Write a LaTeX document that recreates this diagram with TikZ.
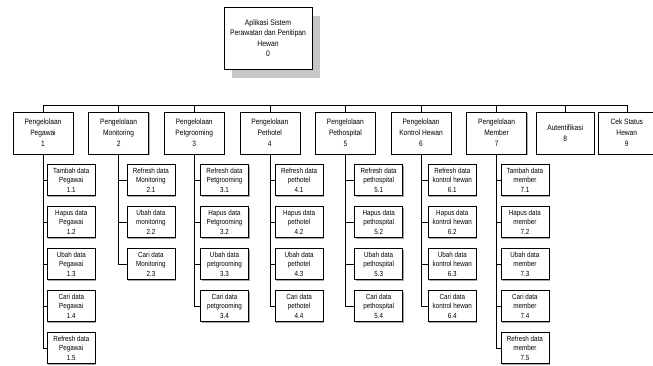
\documentclass[tikz,border=0pt]{standalone}
\usepackage{fontspec}
\setmainfont{Liberation Sans}[FakeStretch=0.85]
\usetikzlibrary{positioning,shadows}

\begin{document}
\begin{tikzpicture}[
x=1pt,y=1pt,
line width=0.6pt,
node distance=15pt,
mainblock/.style={
draw,
fill=white,
minimum width=88pt,
minimum height=62pt,
align=center,
font=\fontsize{8}{10.5}\selectfont,
drop shadow={shadow xshift=8pt,shadow yshift=-9pt,fill=gray!45,opacity=1}
},
block/.style={
draw,
fill=white,
minimum width=60pt,
minimum height=42pt,
inner sep=1pt,
align=center,
font=\fontsize{7.8}{11}\selectfont,
drop shadow={shadow xshift=1pt,shadow yshift=-1pt,fill=gray!60,opacity=1}
},
smallblock/.style={
draw,
fill=white,
minimum width=48pt,
minimum height=31pt,
inner sep=1pt,
align=center,
font=\fontsize{7.4}{9.6}\selectfont,
drop shadow={shadow xshift=1pt,shadow yshift=-1pt,fill=gray!70,opacity=1}
}
]

\useasboundingbox (0,0) rectangle (653,-365);

%%%%%%%%%%%%%%%%%%%%%%%%%%%%%%%%%%%%%%%%%%%%%
% Root
%%%%%%%%%%%%%%%%%%%%%%%%%%%%%%%%%%%%%%%%%%%%%

\node[mainblock] (root) at (268,-38)
{Aplikasi Sistem\\Perawatan dan Penitipan\\Hewan\\0};

%%%%%%%%%%%%%%%%%%%%%%%%%%%%%%%%%%%%%%%%%%%%%
% Main Processes
%%%%%%%%%%%%%%%%%%%%%%%%%%%%%%%%%%%%%%%%%%%%%

\node[block] (p1) at (43,-133)
{Pengelolaan\\Pegawai\\1};

\node[block,right=15pt of p1] (p2)
{Pengelolaan\\Monitoring\\2};

\node[block,right=15pt of p2] (p3)
{Pengelolaan\\Petgrooming\\3};

\node[block,right=15pt of p3] (p4)
{Pengelolaan\\Pethotel\\4};

\node[block,right=15pt of p4] (p5)
{Pengelolaan\\Pethospital\\5};

\node[block,right=15pt of p5] (p6)
{Pengelolaan\\Kontrol Hewan\\6};

\node[block,right=15pt of p6] (p7)
{Pengelolaan\\Member\\7};

\node[block,minimum width=58pt,right=9pt of p7] (p8)
{Autentifikasi\\8};

\node[block,minimum width=58pt,right=3pt of p8] (p9)
{Cek Status\\Hewan\\9};

%%%%%%%%%%%%%%%%%%%%%%%%%%%%%%%%%%%%%%%%%%%%%
% Pegawai
%%%%%%%%%%%%%%%%%%%%%%%%%%%%%%%%%%%%%%%%%%%%%

\node[smallblock,anchor=north west] (p11) at ([xshift=4pt,yshift=-10pt]p1.south)
{Tambah data\\Pegawai\\1.1};

\node[smallblock,below=10.4pt of p11] (p12)
{Hapus data\\Pegawai\\1.2};

\node[smallblock,below=10.4pt of p12] (p13)
{Ubah data\\Pegawai\\1.3};

\node[smallblock,below=10.4pt of p13] (p14)
{Cari data\\Pegawai\\1.4};

\node[smallblock,below=10.4pt of p14] (p15)
{Refresh data\\Pegawai\\1.5};

%%%%%%%%%%%%%%%%%%%%%%%%%%%%%%%%%%%%%%%%%%%%%
% Monitoring
%%%%%%%%%%%%%%%%%%%%%%%%%%%%%%%%%%%%%%%%%%%%%

\node[smallblock,anchor=north west] (p21) at ([xshift=8pt,yshift=-10pt]p2.south)
{Refresh data\\Monitoring\\2.1};

\node[smallblock,below=10.4pt of p21] (p22)
{Ubah data\\monitoring\\2.2};

\node[smallblock,below=10.4pt of p22] (p23)
{Cari data\\Monitoring\\2.3};

%%%%%%%%%%%%%%%%%%%%%%%%%%%%%%%%%%%%%%%%%%%%%
% Petgrooming
%%%%%%%%%%%%%%%%%%%%%%%%%%%%%%%%%%%%%%%%%%%%%

\node[smallblock,anchor=north west] (p31) at ([xshift=6pt,yshift=-10pt]p3.south)
{Refresh data\\Petgrooming\\3.1};

\node[smallblock,below=10.4pt of p31] (p32)
{Hapus data\\Petgrooming\\3.2};

\node[smallblock,below=10.4pt of p32] (p33)
{Ubah data\\petgrooming\\3.3};

\node[smallblock,below=10.4pt of p33] (p34)
{Cari data\\petgrooming\\3.4};

%%%%%%%%%%%%%%%%%%%%%%%%%%%%%%%%%%%%%%%%%%%%%
% Pethotel
%%%%%%%%%%%%%%%%%%%%%%%%%%%%%%%%%%%%%%%%%%%%%

\node[smallblock,anchor=north west] (p41) at ([xshift=5pt,yshift=-10pt]p4.south)
{Refresh data\\pethotel\\4.1};

\node[smallblock,below=10.4pt of p41] (p42)
{Hapus data\\pethotel\\4.2};

\node[smallblock,below=10.4pt of p42] (p43)
{Ubah data\\pethotel\\4.3};

\node[smallblock,below=10.4pt of p43] (p44)
{Cari data\\pethotel\\4.4};

%%%%%%%%%%%%%%%%%%%%%%%%%%%%%%%%%%%%%%%%%%%%%
% Pethospital
%%%%%%%%%%%%%%%%%%%%%%%%%%%%%%%%%%%%%%%%%%%%%

\node[smallblock,anchor=north west] (p51) at ([xshift=9pt,yshift=-10pt]p5.south)
{Refresh data\\pethospital\\5.1};

\node[smallblock,below=10.4pt of p51] (p52)
{Hapus data\\pethospital\\5.2};

\node[smallblock,below=10.4pt of p52] (p53)
{Ubah data\\pethospital\\5.3};

\node[smallblock,below=10.4pt of p53] (p54)
{Cari data\\pethospital\\5.4};

%%%%%%%%%%%%%%%%%%%%%%%%%%%%%%%%%%%%%%%%%%%%%
% Kontrol Hewan
%%%%%%%%%%%%%%%%%%%%%%%%%%%%%%%%%%%%%%%%%%%%%

\node[smallblock,anchor=north west] (p61) at ([xshift=7pt,yshift=-10pt]p6.south)
{Refresh data\\kontrol hewan\\6.1};

\node[smallblock,below=10.4pt of p61] (p62)
{Hapus data\\kontrol hewan\\6.2};

\node[smallblock,below=10.4pt of p62] (p63)
{Ubah data\\kontrol hewan\\6.3};

\node[smallblock,below=10.4pt of p63] (p64)
{Cari data\\kontrol hewan\\6.4};

%%%%%%%%%%%%%%%%%%%%%%%%%%%%%%%%%%%%%%%%%%%%%
% Member
%%%%%%%%%%%%%%%%%%%%%%%%%%%%%%%%%%%%%%%%%%%%%

\node[smallblock,anchor=north west] (p71) at ([xshift=4pt,yshift=-10pt]p7.south)
{Tambah data\\member\\7.1};

\node[smallblock,below=10.4pt of p71] (p72)
{Hapus data\\member\\7.2};

\node[smallblock,below=10.4pt of p72] (p73)
{Ubah data\\member\\7.3};

\node[smallblock,below=10.4pt of p73] (p74)
{Cari data\\member\\7.4};

\node[smallblock,below=10.4pt of p74] (p75)
{Refresh data\\member\\7.5};

%%%%%%%%%%%%%%%%%%%%%%%%%%%%%%%%%%%%%%%%%%%%%
% Connections
%%%%%%%%%%%%%%%%%%%%%%%%%%%%%%%%%%%%%%%%%%%%%

\coordinate (bus) at ([yshift=6pt]p1.north);

\draw (p1.north) -- (p1.north |- bus) -- (p9.north |- bus) -- (p9.north);

\draw (p2.north) -- (p2.north |- bus);
\draw (p3.north) -- (p3.north |- bus);
\draw (p4.north) -- (p4.north |- bus);
\draw (p5.north) -- (p5.north |- bus);
\draw (p6.north) -- (p6.north |- bus);
\draw (p7.north) -- (p7.north |- bus);
\draw (p8.north) -- (p8.north |- bus);

\draw (p1.south) |- (p15.west);
\draw (p1.south |- p11.west) -- (p11.west);
\draw (p1.south |- p12.west) -- (p12.west);
\draw (p1.south |- p13.west) -- (p13.west);
\draw (p1.south |- p14.west) -- (p14.west);

\draw (p2.south) |- (p23.west);
\draw (p2.south |- p21.west) -- (p21.west);
\draw (p2.south |- p22.west) -- (p22.west);

\draw (p3.south) |- (p34.west);
\draw (p3.south |- p31.west) -- (p31.west);
\draw (p3.south |- p32.west) -- (p32.west);
\draw (p3.south |- p33.west) -- (p33.west);

\draw (p4.south) |- (p44.west);
\draw (p4.south |- p41.west) -- (p41.west);
\draw (p4.south |- p42.west) -- (p42.west);
\draw (p4.south |- p43.west) -- (p43.west);

\draw (p5.south) |- (p54.west);
\draw (p5.south |- p51.west) -- (p51.west);
\draw (p5.south |- p52.west) -- (p52.west);
\draw (p5.south |- p53.west) -- (p53.west);

\draw (p6.south) |- (p64.west);
\draw (p6.south |- p61.west) -- (p61.west);
\draw (p6.south |- p62.west) -- (p62.west);
\draw (p6.south |- p63.west) -- (p63.west);

\draw (p7.south) |- (p75.west);
\draw (p7.south |- p71.west) -- (p71.west);
\draw (p7.south |- p72.west) -- (p72.west);
\draw (p7.south |- p73.west) -- (p73.west);
\draw (p7.south |- p74.west) -- (p74.west);

\end{tikzpicture}
\end{document}
